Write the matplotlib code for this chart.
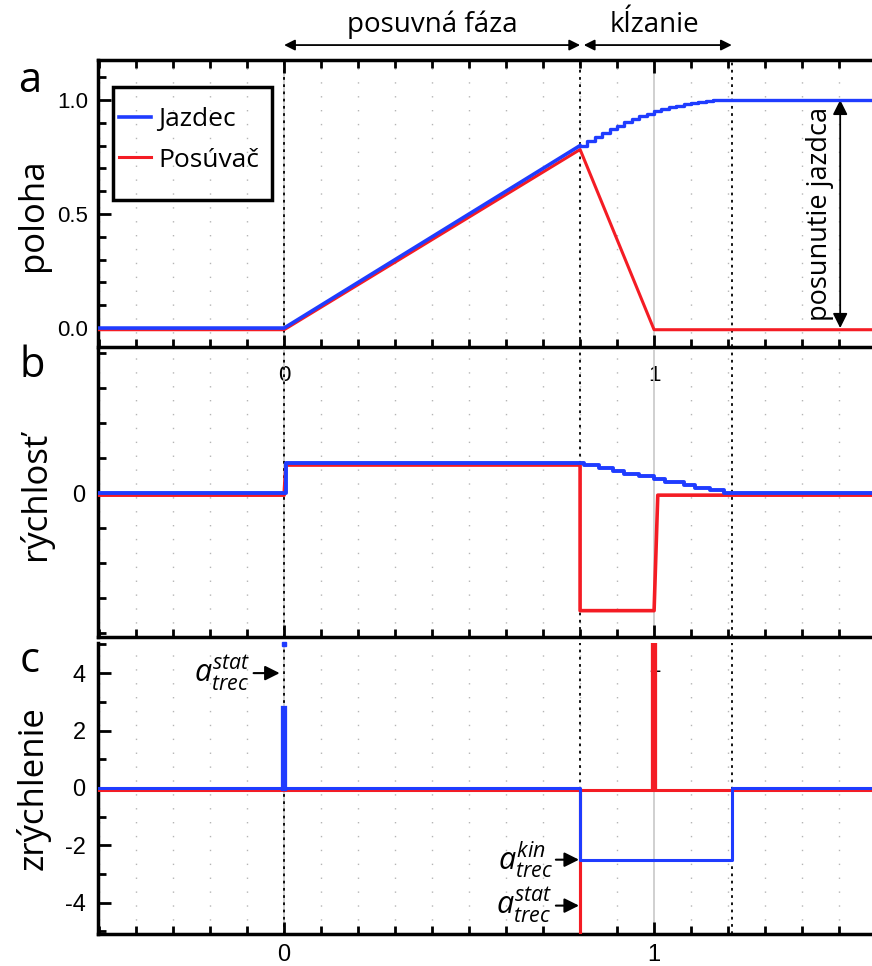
import matplotlib
matplotlib.use("Agg")
import matplotlib.pyplot as plt
from matplotlib.ticker import MultipleLocator, FixedLocator
from matplotlib.transforms import offset_copy
from matplotlib.patches import Rectangle

plt.rcParams['font.family'] = ['Open Sans', 'DejaVu Sans']
plt.rcParams['mathtext.fontset'] = 'custom'
plt.rcParams['mathtext.it'] = 'Open Sans:italic'
plt.rcParams['mathtext.rm'] = 'Open Sans'

BLUE = '#1f3cff'
RED = '#f41c24'

# --- data ---
# a) position
jazdec_push_t = [-0.5, 0.0, 0.80]
jazdec_push_x = [0.0, 0.0, 0.80]
jazdec_slide_t = [0.80, 0.82, 0.84, 0.86, 0.88, 0.90, 0.92, 0.94, 0.96, 0.98,
                  1.00, 1.02, 1.04, 1.06, 1.08, 1.10, 1.12, 1.14, 1.16, 1.18, 1.21, 1.60]
jazdec_slide_x = [0.800, 0.819, 0.838, 0.855, 0.872, 0.887, 0.902, 0.915, 0.928, 0.939,
                  0.950, 0.959, 0.968, 0.975, 0.982, 0.987, 0.992, 0.995, 0.998, 0.999,
                  1.000, 1.000]
posuvac_t = [-0.5, 0.0, 0.80, 1.00, 1.60]
posuvac_x = [0.0, 0.0, 0.79, 0.0, 0.0]

# b) velocity
jazdec_vt = [-0.5, 0.0, 0.005, 0.80, 0.81, 0.85, 0.89, 0.92, 0.96, 1.00, 1.03, 1.08,
             1.11, 1.15, 1.19, 1.60]
jazdec_v = [0.0, 0.0, 0.86, 0.86, 0.80, 0.72, 0.64, 0.56, 0.49, 0.40, 0.32, 0.25,
            0.17, 0.09, 0.0, 0.0]
posuvac_vt = [-0.5, 0.0, 0.005, 0.80, 0.80, 1.00, 1.01, 1.60]
posuvac_v = [0.0, 0.0, 0.86, 0.86, -3.3, -3.3, 0.0, 0.0]

# c) acceleration
jazdec_at = [-0.5, 0.80, 0.80, 1.21, 1.21, 1.60]
jazdec_a = [0.0, 0.0, -2.5, -2.5, 0.0, 0.0]
jazdec_spike = 2.75
posuvac_at = [-0.5, 0.80, 0.80, 0.80, 1.60]
posuvac_a = [0.0, 0.0, -6.0, 0.0, 0.0]
posuvac_spike = 6.0
a_stat = 4.0
a_kin = -2.5

phase_edges = [0.0, 0.8, 1.21]

fig = plt.figure(figsize=(8.72, 9.66), dpi=100)
ax_a = fig.add_axes([0.1124, 0.6408, 0.8876, 0.2971])
ax_b = fig.add_axes([0.1124, 0.3406, 0.8876, 0.2971])
ax_c = fig.add_axes([0.1124, 0.0331, 0.8876, 0.3013])
axes = [ax_a, ax_b, ax_c]

for ax in axes:
    ax.set_facecolor('none')
    ax.set_xlim(-0.503, 1.589)
    ax.xaxis.set_major_locator(FixedLocator([0, 1]))
    ax.xaxis.set_minor_locator(MultipleLocator(0.1))
    ax.tick_params(axis='both', which='both', direction='in', width=2, colors='black')
    ax.tick_params(axis='x', which='major', length=9)
    ax.tick_params(axis='x', which='minor', length=6)
    ax.tick_params(axis='y', which='major', length=9)
    ax.tick_params(axis='y', which='minor', length=6)
    for s in ['left', 'bottom', 'top']:
        ax.spines[s].set_linewidth(2.5)
    ax.spines['right'].set_visible(False)
    # grid
    for gx in [i / 10 for i in range(-5, 16)]:
        if gx in (0.0, 1.0):
            ax.axvline(gx, color='#c8c8c8', lw=1.2, zorder=0)
        else:
            ax.axvline(gx, color='#b5b5b5', lw=1, ls=(0, (1, 9)), zorder=0)
    for e in phase_edges:
        ax.axvline(e, color='black', lw=1.3, ls=(0, (1.5, 2.5)), zorder=1)

red_off = lambda ax: offset_copy(ax.transData, fig=fig, x=0, y=-1.2, units='points')
TICKFONT = ['Liberation Sans', 'DejaVu Sans']

# ---- panel a ----
ax_a.plot(posuvac_t, posuvac_x, color=RED, lw=2.2, label='Posúvač', zorder=3,
          transform=red_off(ax_a))
ax_a.plot(jazdec_push_t, jazdec_push_x, color=BLUE, lw=2.6, label='Jazdec', zorder=4)
ax_a.step(jazdec_slide_t, jazdec_slide_x, where='post', color=BLUE, lw=2.4, zorder=4)
ax_a.set_ylim(-0.083, 1.175)
ax_a.set_yticks([0, 0.5, 1.0])
ax_a.set_yticklabels(['0.0', '0.5', '1.0'], fontsize=16, family=TICKFONT)
ax_a.yaxis.set_minor_locator(MultipleLocator(0.1))
ax_a.tick_params(axis='x', which='both', top=True, bottom=True)
ax_a.tick_params(axis='x', pad=13)
ax_a.tick_params(axis='y', pad=7)
ax_a.set_xticklabels(['0', '1'], fontsize=16, family=TICKFONT)

# legend with hand-drawn frame
ax_a.add_patch(Rectangle((0.0194, 0.512), 0.2054, 0.394, transform=ax_a.transAxes,
                         fill=False, edgecolor='black', lw=2.5, zorder=6))
h, l = ax_a.get_legend_handles_labels()
leg = ax_a.legend(h[::-1], l[::-1], loc='upper left', bbox_to_anchor=(0.027, 0.835),
                  fontsize=19, frameon=False, handlelength=1.2,
                  handletextpad=0.3, borderpad=0, labelspacing=0.58, borderaxespad=0)

ax_a.annotate('', xy=(1.503, 1.0), xytext=(1.503, 0.0),
              arrowprops=dict(arrowstyle='<|-|>', color='black', lw=1.3,
                              mutation_scale=22, shrinkA=0, shrinkB=0))
ax_a.text(1.449, 0.5, 'posunutie jazdca', rotation=90, ha='center', va='center',
          fontsize=19.5)

# top phase arrows
ax_a.annotate('', xy=(0.0, 1.052), xytext=(0.8, 1.052), xycoords=('data', 'axes fraction'),
              textcoords=('data', 'axes fraction'),
              arrowprops=dict(arrowstyle='<|-|>', color='black', lw=1.3,
                              mutation_scale=16, shrinkA=0, shrinkB=0))
ax_a.annotate('', xy=(0.81, 1.052), xytext=(1.21, 1.052), xycoords=('data', 'axes fraction'),
              textcoords=('data', 'axes fraction'),
              arrowprops=dict(arrowstyle='<|-|>', color='black', lw=1.3,
                              mutation_scale=16, shrinkA=0, shrinkB=0))
ax_a.text(0.4, 1.122, 'posuvná fáza', transform=ax_a.get_xaxis_transform(),
          ha='center', va='center', fontsize=20)
ax_a.text(1.0, 1.122, 'kĺzanie', transform=ax_a.get_xaxis_transform(),
          ha='center', va='center', fontsize=20)

# ---- panel b ----
ax_b.plot(posuvac_vt, posuvac_v, color=RED, lw=2.6, zorder=3, transform=red_off(ax_b))
ax_b.step(jazdec_vt, jazdec_v, where='post', color=BLUE, lw=2.8, zorder=4)
ax_b.set_ylim(-4.1, 4.1)
ax_b.set_yticks([0])
ax_b.set_yticklabels(['0'], fontsize=17, family=TICKFONT)
ax_b.yaxis.set_minor_locator(MultipleLocator(1))
ax_b.spines['top'].set_visible(False)
ax_b.tick_params(axis='x', which='both', top=False, bottom=True)
ax_b.tick_params(axis='x', pad=14)
ax_b.tick_params(axis='y', pad=9)
ax_b.set_xticklabels(['', '1'], fontsize=16, family=TICKFONT)

# ---- panel c ----
ax_c.plot(posuvac_at, posuvac_a, color=RED, lw=2.2, zorder=3, transform=red_off(ax_c))
ax_c.plot([1.0, 1.0], [0, posuvac_spike], color=RED, lw=4.5, zorder=3)
ax_c.plot(jazdec_at, jazdec_a, color=BLUE, lw=2.2, zorder=4)
ax_c.plot([0.0, 0.0], [0, jazdec_spike], color=BLUE, lw=4.5, zorder=4)
ax_c.plot([0.0], [5.0], marker='s', ms=3, color=BLUE, zorder=4, clip_on=False)
ax_c.set_ylim(-5.09, 5.05)
ax_c.set_yticks([-4, -2, 0, 2, 4])
ax_c.set_yticklabels(['-4', '-2', '0', '2', '4'], fontsize=17, family=TICKFONT)
ax_c.yaxis.set_minor_locator(MultipleLocator(1))
ax_c.spines['top'].set_visible(False)
ax_c.tick_params(axis='x', which='both', top=False, bottom=True)
ax_c.tick_params(axis='x', pad=7)
ax_c.tick_params(axis='y', pad=9)
ax_c.set_xticklabels(['0', '1'], fontsize=17, family=TICKFONT)

arr = dict(arrowstyle='-|>', color='black', lw=1.5, mutation_scale=22, shrinkA=0, shrinkB=0)
ax_c.annotate(r'$a^{stat}_{trec}$', xy=(-0.012, a_stat), xytext=(-0.09, a_stat),
              ha='right', va='center', fontsize=22, arrowprops=arr)
ax_c.annotate(r'$a^{kin}_{trec}$', xy=(0.797, a_kin), xytext=(0.727, a_kin),
              ha='right', va='center', fontsize=22, arrowprops=arr)
ax_c.annotate(r'$a^{stat}_{trec}$', xy=(0.797, -a_stat - 0.1), xytext=(0.727, -a_stat - 0.1),
              ha='right', va='center', fontsize=22, arrowprops=arr)

# panel letters and y labels
for lx, ly, letter in [(30, 81, 'a'), (32, 366, 'b'), (30, 661, 'c')]:
    fig.text(lx / 872, 1 - ly / 966, letter, ha='center', va='center', fontsize=30)
for lx, ly, name in [(33, 215, 'poloha'), (35, 496, 'rýchlosť'), (33, 788, 'zrýchlenie')]:
    fig.text(lx / 872, 1 - ly / 966, name, ha='center', va='center', rotation=90, fontsize=25)

fig.savefig('out.png', dpi=100)
